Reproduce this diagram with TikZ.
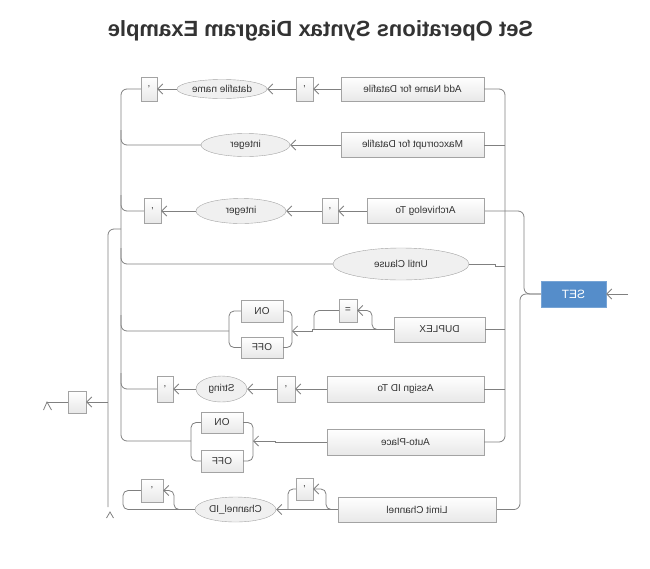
\documentclass[tikz,border=0pt]{standalone}
\usepackage{fontspec}
\setmainfont{Liberation Sans}
\usepackage{graphicx}
\usetikzlibrary{shapes.geometric,arrows.meta}

\definecolor{wire}{HTML}{808080}
\definecolor{rim}{HTML}{A3A3A3}
\definecolor{ink}{HTML}{333333}
\definecolor{setblue}{HTML}{558DCA}
\newcommand{\mirr}[1]{\reflectbox{#1}}

\begin{document}
\begin{tikzpicture}[x=1pt, y=-1pt, >={Straight Barb[length=5pt,width=10pt]},
    line/.style = {draw=wire, line width=.8pt},
    kword/.style = {rectangle, draw=rim, top color=white, bottom color=black!9, text=ink,
                    font=\fontsize{10}{12}\selectfont, inner sep=0pt},
    term/.style = {ellipse, draw=rim, fill=black!6, text=ink,
                   font=\fontsize{10}{12}\selectfont, inner sep=0pt},
    setbox/.style = {rectangle, draw=setblue!80!white, fill=setblue, text=white,
                     font=\fontsize{12}{14}\selectfont, inner sep=0pt}]

    \useasboundingbox (0,0) rectangle (650,568);

    \node [font=\bfseries\fontsize{22}{26}\selectfont, text=ink] (title) at (320.5,31) {\mirr{Set Operations Syntax Diagram Example}};

    %%%%%%%%%%%%%%%%%%%% start
    \node [setbox, minimum width=65pt, minimum height=26pt] (set) at (573.5,294) {\mirr{SET}};
    \coordinate (start) at (628,294);
    \draw [line, ->] (start) -- (set.east);
    \draw [line, rounded corners=6pt] (set.west) -- (524,294) -- (524,211) -- (484,211);
    \draw [line, rounded corners=6pt] (set.west) -- (520,294) -- (520,509.5) -- (496,509.5);

    %%%%%%%%%%%%%%%%%%%% rows
    \node [kword, minimum width=143pt, minimum height=24pt] (addname) at (412.5,89) {\mirr{Add Name for Datafile}};
    \node [kword, minimum width=17pt, minimum height=24pt] (q1a) at (304.5,89) {'};
    \node [term, minimum width=90pt, minimum height=19pt] (dfname) at (222,89) {\mirr{datafile name}};
    \node [kword, minimum width=16pt, minimum height=24pt] (q1b) at (149,89) {'};

    \node [kword, minimum width=143pt, minimum height=25pt] (maxc) at (412.5,145) {\mirr{Maxcorrupt for Datafile}};
    \node [term, minimum width=89pt, minimum height=23pt] (int1) at (245.5,145) {\mirr{integer}};

    \node [kword, minimum width=117pt, minimum height=25pt] (arch) at (425.5,211) {\mirr{Archivelog To}};
    \node [kword, minimum width=16pt, minimum height=25pt] (q3a) at (330,211) {'};
    \node [term, minimum width=90pt, minimum height=25pt] (int2) at (241,211) {\mirr{integer}};
    \node [kword, minimum width=17pt, minimum height=25pt] (q3b) at (152.5,211) {'};

    \node [term, minimum width=136pt, minimum height=32pt] (until) at (401,264) {\mirr{Until Clause}};

    \node [kword, minimum width=91pt, minimum height=25pt] (duplex) at (439.5,329.5) {\mirr{DUPLEX}};
    \node [kword, minimum width=18pt, minimum height=23pt] (eq) at (348,310.5) {\mirr{=}};
    \node [kword, minimum width=42pt, minimum height=22pt] (on1) at (262,311) {\mirr{ON}};
    \node [kword, minimum width=42pt, minimum height=21pt] (off1) at (262,347.5) {\mirr{OFF}};

    \node [kword, minimum width=157pt, minimum height=26pt] (assign) at (405.5,389) {\mirr{Assign ID To}};
    \node [kword, minimum width=18pt, minimum height=26pt] (q5a) at (286,389) {'};
    \node [term, minimum width=51pt, minimum height=26pt] (str) at (221.5,389) {\mirr{String}};
    \node [kword, minimum width=16pt, minimum height=26pt] (q5b) at (165,389) {'};

    \node [kword, minimum width=157pt, minimum height=26pt] (auto) at (405.5,442) {\mirr{Auto-Place}};
    \node [kword, minimum width=42pt, minimum height=21pt] (on2) at (222,422.5) {\mirr{ON}};
    \node [kword, minimum width=42pt, minimum height=22pt] (off2) at (222,461) {\mirr{OFF}};

    \node [kword, minimum width=158pt, minimum height=25pt] (limit) at (417,509.5) {\mirr{Limit Channel}};
    \node [kword, minimum width=17pt, minimum height=22pt] (q7a) at (304.5,489) {'};
    \node [term, minimum width=81pt, minimum height=25pt] (chan) at (235.5,509.5) {\mirr{Channel\_ID}};
    \node [kword, minimum width=22pt, minimum height=23pt] (q7b) at (152,490.5) {'};

    \node [kword, minimum width=18pt, minimum height=22pt] (exitbox) at (77,402) {};

    %%%%%%%%%%%%%%%%%%%% right bus
    \draw [line, rounded corners=6pt] (addname.east) -- (505,89) -- (505,442) -- (auto.east);
    \draw [line] (maxc.east) -- (505,145);
    \draw [line] (duplex.east) -- (505,329.5);
    \draw [line] (assign.east) -- (505,389);
    \draw [line] (until.east) -- (495,264) -- (495,266) -- (505,266);

    %%%%%%%%%%%%%%%%%%%% connectors
    \draw [line, ->] (addname.west) -- (q1a.east);
    \draw [line, ->] (q1a.west) -- (dfname.east);
    \draw [line, ->] (dfname.west) -- (q1b.east);

    \draw [line, ->] (maxc.west) -- (int1.east);

    \draw [line, ->] (arch.west) -- (q3a.east);
    \draw [line, ->] (q3a.west) -- (int2.east);
    \draw [line, ->] (int2.west) -- (q3b.east);

    \coordinate (c1r) at (292,331);
    \coordinate (c1l) at (229,331);
    \draw [line, ->] (duplex.west) -- (312,329.5) -- (312,331) -- (c1r);
    \draw [line, ->, rounded corners=5pt] (378,329.5) -- (372,329.5) -- (372,310.5) -- (eq.east);
    \draw [line, rounded corners=5pt] (eq.west) -- (314,310.5) -- (314,329.5);
    \draw [line, rounded corners=5pt] (on1.east) -- (292,311) -- (292,347.5) -- (off1.east);
    \draw [line, rounded corners=5pt] (on1.west) -- (229,311) -- (229,347.5) -- (off1.west);

    \draw [line, ->] (assign.west) -- (q5a.east);
    \draw [line, ->] (q5a.west) -- (str.east);
    \draw [line, ->] (str.west) -- (q5b.east);

    \coordinate (c2r) at (253,441);
    \coordinate (c2l) at (191,441);
    \draw [line, ->] (auto.west) -- (275,442) -- (275,441) -- (c2r);
    \draw [line, rounded corners=5pt] (on2.east) -- (253,422.5) -- (253,461) -- (off2.east);
    \draw [line, rounded corners=5pt] (on2.west) -- (191,422.5) -- (191,461) -- (off2.west);

    \draw [line, ->] (limit.west) -- (chan.east);
    \draw [line, ->, rounded corners=5pt] (336,509.5) -- (326,509.5) -- (326,489) -- (q7a.east);
    \draw [line, rounded corners=5pt] (q7a.west) -- (288,489) -- (288,509.5);
    \draw [line, ->, rounded corners=5pt] (182,509.5) -- (174,509.5) -- (174,490.5) -- (q7b.east);
    \draw [line, rounded corners=5pt] (q7b.west) -- (123,490.5) -- (123,509.5) -- (chan.west);

    %%%%%%%%%%%%%%%%%%%% left bus
    \draw [line, rounded corners=6pt] (q1b.west) -- (121,89) -- (121,441) -- (c2l);
    \draw [line, rounded corners=6pt] (int1.west) -- (121,145) -- (121,130);
    \draw [line, rounded corners=6pt] (q3b.west) -- (121,211) -- (121,195);
    \draw [line, rounded corners=6pt] (until.west) -- (121,264) -- (121,248);
    \draw [line, rounded corners=6pt] (c1l) -- (121,331) -- (121,315);
    \draw [line, rounded corners=6pt] (q5b.west) -- (121,389) -- (121,373);

    %%%%%%%%%%%%%%%%%%%% exit
    \coordinate (tap) at (121,229);
    \coordinate (tap2) at (108,402);
    \coordinate (end1) at (47,402);
    \coordinate (end2) at (108,507);
    \draw [line, rounded corners=6pt] (tap) -- (108,229) -- (end2);
    \draw [line, ->] (tap2) -- (exitbox.east);
    \draw [line] (exitbox.west) -- (end1);
    \draw [line] (end1) ++(-3.5,8) -- (end1) -- ++(4.5,8);
    \draw [line] (end2) ++(-1.5,11) -- ++(3.5,-6) -- ++(3.5,6);
\end{tikzpicture}
\end{document}
